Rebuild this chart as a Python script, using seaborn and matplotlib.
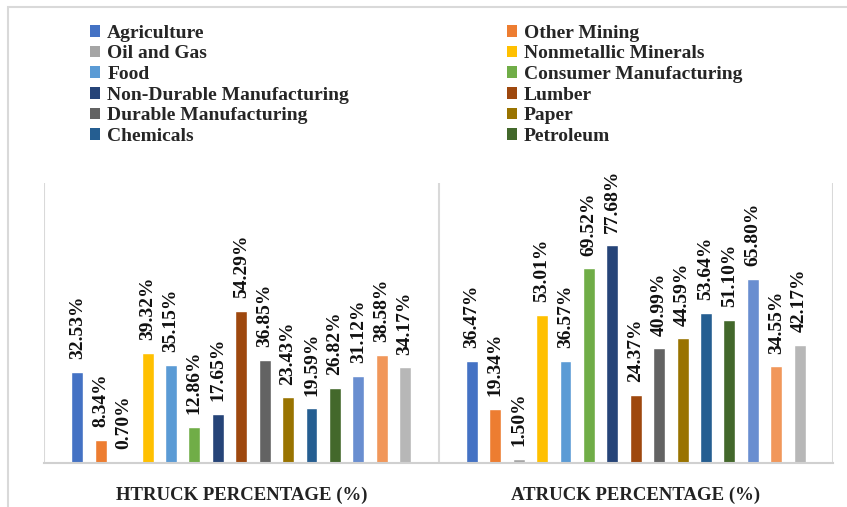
import matplotlib
matplotlib.use("Agg")
import matplotlib.pyplot as plt
from matplotlib.patches import Rectangle, Patch
import seaborn as sns
import pandas as pd

groups = ["HTRUCK PERCENTAGE (%)", "ATRUCK PERCENTAGE (%)"]
industries = ["Agriculture", "Other Mining", "Oil and Gas", "Nonmetallic Minerals",
              "Food", "Consumer Manufacturing", "Non-Durable Manufacturing", "Lumber",
              "Durable Manufacturing", "Paper", "Chemicals", "Petroleum",
              "Series 13", "Series 14", "Series 15"]
htruck = [32.53, 8.34, 0.70, 39.32, 35.15, 12.86, 17.65, 54.29, 36.85, 23.43,
          19.59, 26.82, 31.12, 38.58, 34.17]
atruck = [36.47, 19.34, 1.50, 53.01, 36.57, 69.52, 77.68, 24.37, 40.99, 44.59,
          53.64, 51.10, 65.80, 34.55, 42.17]
colors = ["#4472C4", "#ED7D31", "#A5A5A5", "#FFC000", "#5B9BD5", "#70AD47",
          "#264478", "#9E480E", "#636363", "#997300", "#255E91", "#43682B",
          "#698ED0", "#F1975A", "#B7B7B7"]
n_legend = 12

df = pd.DataFrame({
    "group": [groups[0]] * len(industries) + [groups[1]] * len(industries),
    "industry": industries * 2,
    "value": htruck + atruck,
})

sns.set_theme(style="white")
plt.rcParams["font.family"] = ["Liberation Serif", "DejaVu Serif"]
plt.rcParams["font.weight"] = "bold"

fig = plt.figure(figsize=(8.47, 5.07), dpi=100)
ax = fig.add_axes([44 / 847, 1 - 463 / 507, (833 - 44) / 847, (463 - 183) / 507])

sns.barplot(data=df, x="group", y="value", hue="industry", order=groups,
            hue_order=industries, palette=colors, width=0.89, gap=0.49,
            saturation=1, legend=False, ax=ax)

for cont in ax.containers:
    ax.bar_label(cont, labels=[f"{v:.2f}%" for v in cont.datavalues],
                 rotation=90, padding=9, fontsize=14, fontweight="bold",
                 color="#111111")

ax.set_xlim(-0.5, 1.5)
ax.set_ylim(0, 100)
ax.set_yticks([])
ax.set_xlabel("")
ax.set_ylabel("")
ax.tick_params(axis="x", length=0, pad=17)
for lab in ax.get_xticklabels():
    lab.set_fontsize(13.5)
    lab.set_fontweight("bold")
    lab.set_color("#222222")
for s in ["top", "right", "left"]:
    ax.spines[s].set_visible(False)
ax.spines["bottom"].set_color("#d0d0d0")
ax.spines["bottom"].set_linewidth(1.5)
for xv in [-0.5, 0.5, 1.5]:
    ax.axvline(xv, color="#d9d9d9", lw=1.5, zorder=0)

handles = [Patch(facecolor=c, edgecolor="none") for c in colors[:n_legend]]
names = industries[:n_legend]
order = list(range(0, n_legend, 2)) + list(range(1, n_legend, 2))
leg = fig.legend([handles[i] for i in order], [names[i] for i in order],
                 ncol=2, loc="upper left", bbox_to_anchor=(80 / 847, 1 - 15 / 507),
                 frameon=False, prop={"family": "Liberation Serif", "weight": "bold", "size": 14},
                 handlelength=0.55, handleheight=0.55, handletextpad=0.35,
                 labelspacing=0.19, columnspacing=8.1, borderpad=0)

fig.patches.append(Rectangle((8 / 847, -0.1), 1.2, 1 - 7 / 507 + 0.1,
                             transform=fig.transFigure, fill=False,
                             edgecolor="#d9d9d9", lw=1.5))

fig.savefig("out.png", dpi=100)
